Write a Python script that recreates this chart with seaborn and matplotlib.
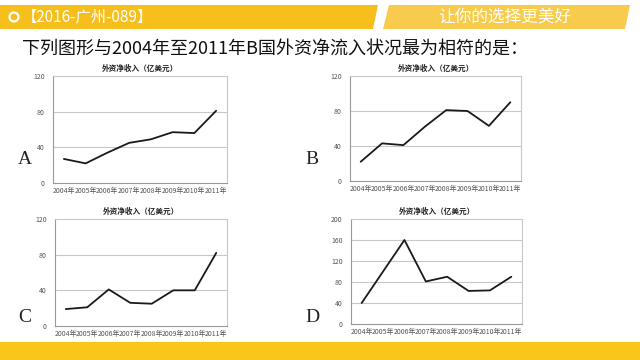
import matplotlib
matplotlib.use("Agg")
import matplotlib.pyplot as plt
from matplotlib.patches import Polygon, Rectangle
import seaborn as sns
import pandas as pd

sns.set_theme(style="white")
plt.rcParams['font.family'] = ['Noto Sans CJK SC', 'DejaVu Sans']

years = ["2004年", "2005年", "2006年", "2007年", "2008年", "2009年", "2010年", "2011年"]
values_a = [27, 22, 34, 45, 49, 57, 56, 81]
values_b = [22, 43, 41, 62, 81, 80, 63, 90]
values_c = [19, 21, 41, 26, 25, 40, 40, 82]
values_d = [40, 100, 160, 81, 90, 63, 64, 90]
ticks_abc = [0, 40, 80, 120]
ticks_d = [0, 40, 80, 120, 160, 200]
letters = ["A", "B", "C", "D"]
chart_title = "外资净收入（亿美元）"
question = "下列图形与2004年至2011年B国外资净流入状况最为相符的是："
header_left = "【2016-广州-089】"
header_right = "让你的选择更美好"

W, H = 640, 360
fig = plt.figure(figsize=(6.4, 3.6), dpi=100)
fig.patch.set_facecolor("white")

def fx(x):
    return x / W

def fy(y):
    return 1 - y / H

bg = fig.add_axes([0, 0, 1, 1], zorder=-1)
bg.set_xlim(0, W)
bg.set_ylim(H, 0)
bg.axis("off")
bg.add_patch(Polygon([(0, 5), (378, 5), (373, 29), (0, 29)], closed=True,
                     facecolor="#F7BF1C", edgecolor="none"))
bg.add_patch(Polygon([(389, 5), (630, 5), (625, 29), (383, 29)], closed=True,
                     facecolor="#F8CB4C", edgecolor="none"))
bg.add_patch(Rectangle((0, 342), W, 18, facecolor="#F9C71A", edgecolor="none"))
bg.add_patch(plt.Circle((14, 17), 4.5, facecolor="none", edgecolor="white", lw=1.6))
bg.text(22, 17, header_left, color="white", fontsize=11, va="center", ha="left")
bg.text(505, 17, header_right, color="white", fontsize=12, va="center", ha="center")
bg.text(22, 49, question, color="#111111", fontsize=13, va="center", ha="left")

letter_pos = [(25, 160), (312, 160), (25, 318), (312, 318)]
for (lx, ly), lt in zip(letter_pos, letters):
    bg.text(lx, ly, lt, fontsize=14, family="Liberation Serif", color="#222222",
            va="center", ha="center")

panels = [
    (values_a, ticks_abc, (53, 227, 76, 183)),
    (values_b, ticks_abc, (350, 521, 76, 181)),
    (values_c, ticks_abc, (55, 227, 219, 326)),
    (values_d, ticks_d, (351, 522, 219, 324)),
]

for vals, yt, (l, r, t, b) in panels:
    ax = fig.add_axes([fx(l), fy(b), fx(r) - fx(l), fy(t) - fy(b)])
    df = pd.DataFrame({"year": years, "value": vals})
    sns.lineplot(data=df, x="year", y="value", ax=ax, color="#1a1a1a", lw=1.3, sort=False)
    ax.set_xlim(-0.5, 7.5)
    ax.set_ylim(yt[0], yt[-1])
    ax.set_yticks(yt)
    ax.set_yticklabels([str(v) for v in yt])
    ax.set_xticks(range(len(years)))
    ax.set_xticklabels(years)
    ax.set_xticks([i - 0.5 for i in range(len(years) + 1)], minor=True)
    ax.tick_params(axis="x", which="major", length=0, labelsize=5, colors="#555555", pad=3)
    ax.tick_params(axis="x", which="minor", length=3, direction="in", color="#999999", width=0.6)
    ax.tick_params(axis="y", which="major", length=0, labelsize=5, colors="#555555", pad=6)
    for v in yt[1:-1]:
        ax.axhline(v, color="#c8c8c8", lw=0.8, zorder=0)
    for sp in ax.spines.values():
        sp.set_visible(True)
        sp.set_color("#c8c8c8")
        sp.set_linewidth(0.8)
    ax.spines["bottom"].set_color("#999999")
    ax.spines["left"].set_color("#999999")
    ax.set_xlabel("")
    ax.set_ylabel("")
    ax.set_facecolor("white")
    ax.set_title(chart_title, fontsize=5.5, fontweight="bold", color="#222222", pad=4)

fig.savefig("out.png", dpi=100)
